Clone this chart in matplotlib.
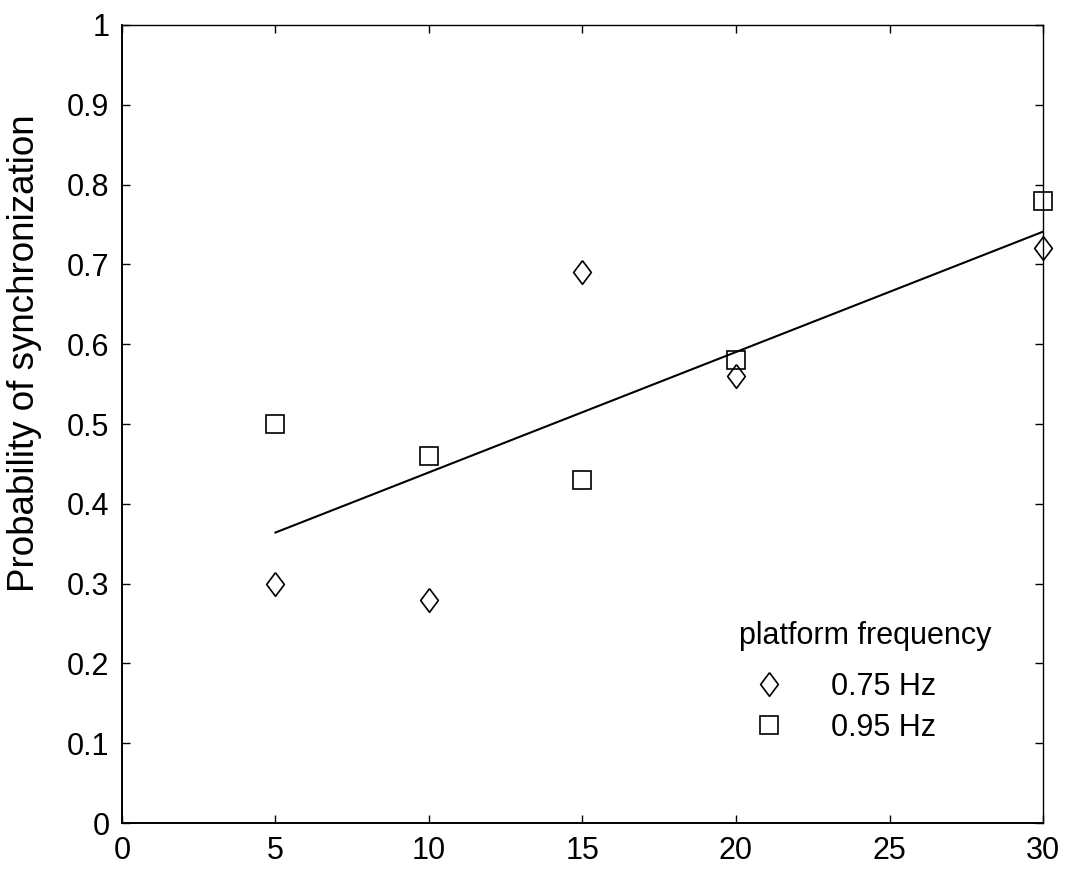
import matplotlib
matplotlib.use('Agg')
import matplotlib.pyplot as plt

# Data
platform_x = [5, 10, 15, 20, 30]
sync_075 = [0.30, 0.28, 0.69, 0.56, 0.72]
sync_095 = [0.50, 0.46, 0.43, 0.58, 0.78]
fit_x = [5, 30]
fit_y = [0.364, 0.741]
x_ticks = [0, 5, 10, 15, 20, 25, 30]
y_ticks = [0, 0.1, 0.2, 0.3, 0.4, 0.5, 0.6, 0.7, 0.8, 0.9, 1.0]
y_tick_labels = ['0', '0.1', '0.2', '0.3', '0.4', '0.5', '0.6', '0.7', '0.8', '0.9', '1']
legend_labels = ['0.75 Hz', '0.95 Hz']

plt.rcParams['font.family'] = ['Liberation Sans', 'DejaVu Sans']

DIAMOND = [(0, 1), (0.75, 0), (0, -1), (-0.75, 0), (0, 1)]

fig = plt.figure(figsize=(10.68, 8.71), dpi=100)
ax = fig.add_axes([0.1142, 0.0551, 0.8624, 0.9162])

ax.plot(fit_x, fit_y, color='black', linewidth=1.5, zorder=2)
ax.plot(platform_x, sync_075, linestyle='none', marker=DIAMOND, markersize=17,
        markerfacecolor='none', markeredgecolor='black', markeredgewidth=1.2,
        label=legend_labels[0], zorder=3, clip_on=False)
ax.plot(platform_x, sync_095, linestyle='none', marker='s', markersize=13,
        markerfacecolor='none', markeredgecolor='black', markeredgewidth=1.2,
        label=legend_labels[1], zorder=3, clip_on=False)

ax.set_xlim(0, 30)
ax.set_ylim(0, 1)
ax.set_xticks(x_ticks)
ax.set_yticks(y_ticks)
ax.set_yticklabels(y_tick_labels)
ax.tick_params(direction='in', length=6, width=1, top=True, right=True,
               labelsize=22, pad=9, colors='black')
for side in ['left', 'bottom']:
    ax.spines[side].set_linewidth(1.4)
for side in ['top', 'right']:
    ax.spines[side].set_linewidth(1.0)

ax.set_ylabel('Probability of synchronization', fontsize=26.5)
ax.yaxis.set_label_coords(-0.087, 0.589)

leg = ax.legend(title='platform frequency', loc='upper left',
                bbox_to_anchor=(0.653, 0.272), frameon=False, fontsize=22,
                title_fontsize=22, borderpad=0, handlelength=1.96,
                handletextpad=1.05, labelspacing=0.36, alignment='left')
leg._legend_box.sep = 15  # a bit more room under the title

fig.savefig('out.png', dpi=100)
